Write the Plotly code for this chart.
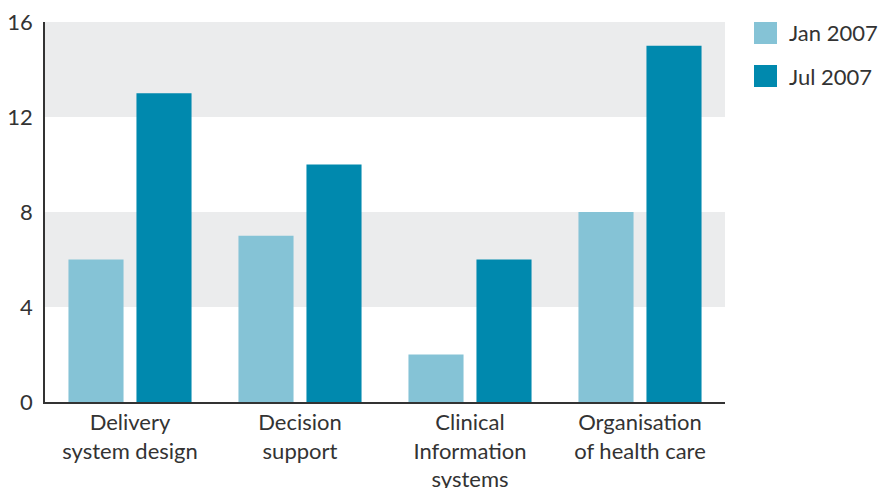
import plotly.graph_objects as go

categories = ["Delivery<br>system design", "Decision<br>support",
              "Clinical<br>Information<br>systems", "Organisation<br>of health care"]
jan_2007 = [6, 7, 2, 8]
jul_2007 = [13, 10, 6, 15]
series_names = ["Jan 2007", "Jul 2007"]
colors = ["#85c3d6", "#0089ae"]
y_ticks = [0, 4, 8, 12, 16]
bands = [(4, 8), (12, 16)]

L, R, T, B, W, H = 45, 163, 22, 86, 888, 488
pw, ph = W - L - R, H - T - B

def px_x(p):
    return (p - L) / pw

def px_y(p):
    return (H - B - p) / ph

fig = go.Figure()
for name, vals, col in zip(series_names, [jan_2007, jul_2007], colors):
    fig.add_trace(go.Bar(x=categories, y=vals, name=name, marker_color=col,
                         marker_line_width=0, showlegend=False))

for lo, hi in bands:
    fig.add_shape(type="rect", xref="paper", yref="y", x0=0, x1=1, y0=lo, y1=hi,
                  fillcolor="#ebeced", line_width=0, layer="below")

# legend drawn as layout items
legend_tops = [22, 65]
for name, col, top in zip(series_names, colors, legend_tops):
    fig.add_shape(type="rect", xref="paper", yref="paper",
                  x0=px_x(754), x1=px_x(777), y0=px_y(top + 22), y1=px_y(top),
                  fillcolor=col, line_width=0)
    fig.add_annotation(xref="paper", yref="paper", x=px_x(787), y=px_y(top + 11),
                       text=name, showarrow=False, xanchor="left", yanchor="middle",
                       font=dict(size=22, color="#333333"))

font_family = "Lato, 'Open Sans', sans-serif"
fig.update_layout(
    width=W, height=H,
    margin=dict(l=L, r=R, t=T, b=B, autoexpand=False),
    paper_bgcolor="white", plot_bgcolor="white",
    font=dict(family=font_family, size=22, color="#333333"),
    barmode="group", bargap=0.2, bargroupgap=0.19,
    showlegend=False,
    xaxis=dict(showline=True, linecolor="#333333", linewidth=1.5, ticks="",
               showgrid=False, automargin=False, tickfont=dict(size=22),
               ticklabelstandoff=0),
    yaxis=dict(range=[0, 16], tickvals=y_ticks, showline=True, linecolor="#333333",
               linewidth=1.5, showgrid=False, zeroline=False, ticks="",
               automargin=False, tickfont=dict(size=22), ticklabelstandoff=6),
)
fig.write_html("out.html")
